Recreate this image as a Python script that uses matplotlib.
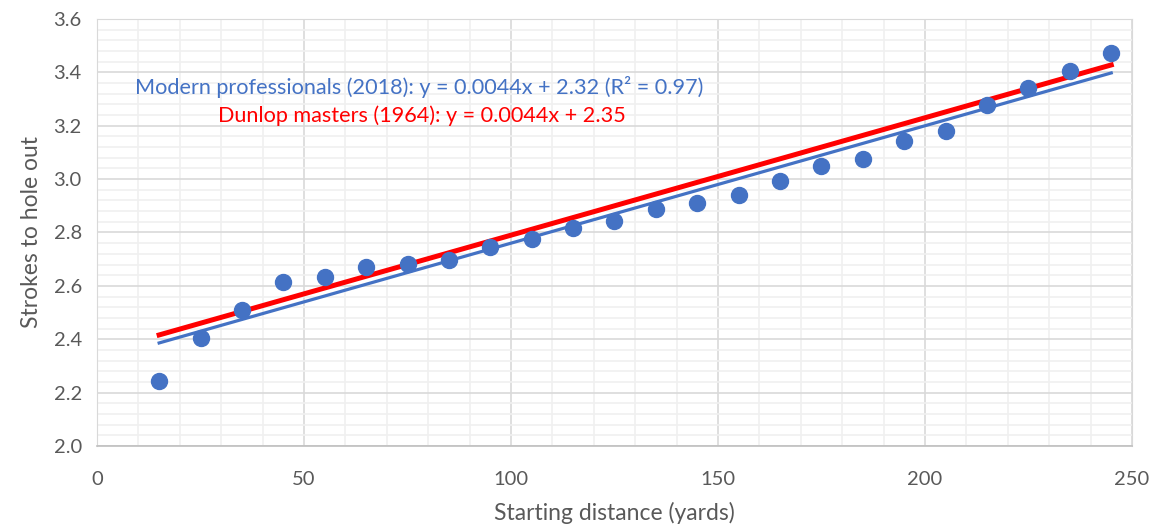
import numpy as np
import matplotlib.pyplot as plt
from matplotlib.ticker import MultipleLocator

plt.rcParams['font.family'] = ['Lato', 'DejaVu Sans']

# starting distance (yards) and mean strokes to hole out
distance = [15, 25, 35, 45, 55, 65, 75, 85, 95, 105, 115, 125,
            135, 145, 155, 165, 175, 185, 195, 205, 215, 225, 235, 245]
strokes = [2.245, 2.405, 2.51, 2.615, 2.633, 2.671, 2.682, 2.697, 2.746, 2.776, 2.817, 2.843,
           2.888, 2.91, 2.94, 2.993, 3.049, 3.075, 3.143, 3.18, 3.278, 3.341, 3.405, 3.473]

# fitted lines
modern_slope, modern_icpt = 0.0044, 2.32
dunlop_slope, dunlop_icpt = 0.0044, 2.35

blue = '#4472C4'
red = '#FF0000'
grey = '#595959'

fig = plt.figure(figsize=(11.58, 5.29), dpi=100)
ax = fig.add_axes([0.0838, 0.157, 0.8937, 0.807])

xs = np.array([distance[0], distance[-1]])
ax.plot(xs, modern_slope * xs + modern_icpt, color=blue, lw=2.3, zorder=3)
ax.plot(xs, dunlop_slope * xs + dunlop_icpt, color=red, lw=3.6, zorder=4)
ax.plot(distance, strokes, 'o', color=blue, ms=11.5, zorder=5)

ax.text(9.2, 3.345, 'Modern professionals (2018): y = 0.0044x + 2.32 (R² = 0.97)',
        color=blue, fontsize=15.6, va='center', ha='left')
ax.text(29.2, 3.237, 'Dunlop masters (1964): y = 0.0044x + 2.35',
        color=red, fontsize=15.6, va='center', ha='left')

ax.set_xlim(0, 250)
ax.set_ylim(2.0, 3.6)
ax.xaxis.set_major_locator(MultipleLocator(50))
ax.xaxis.set_minor_locator(MultipleLocator(10))
ax.yaxis.set_major_locator(MultipleLocator(0.2))
ax.yaxis.set_minor_locator(MultipleLocator(0.04))
ax.yaxis.set_major_formatter(plt.FormatStrFormatter('%.1f'))

ax.grid(which='major', color='#D9D9D9', lw=1.2, zorder=0)
ax.grid(which='minor', color='#F0F0F0', lw=1.2, zorder=0)
ax.set_axisbelow(True)
ax.tick_params(which='both', length=0, labelsize=14.5, labelcolor=grey)
ax.tick_params(axis='x', pad=18)
ax.tick_params(axis='y', pad=11)
for side in ['left', 'right', 'top']:
    ax.spines[side].set_color('#D9D9D9')
ax.spines['bottom'].set_color('#BFBFBF')
ax.spines['bottom'].set_linewidth(1.2)

ax.set_xlabel('Starting distance (yards)', fontsize=16.5, color=grey, labelpad=10)
ax.set_ylabel('Strokes to hole out', fontsize=16.5, color=grey, labelpad=8)

fig.savefig('out.png', dpi=100)
